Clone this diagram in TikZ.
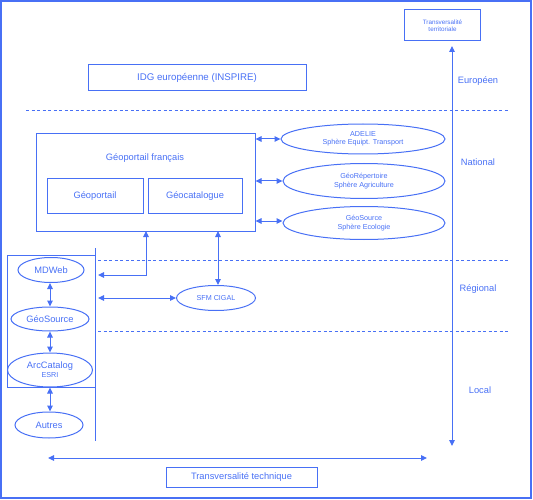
\documentclass[tikz,border=0pt]{standalone}
\usepackage{fontspec}
\setmainfont{Liberation Sans}
\usetikzlibrary{arrows.meta,shapes.geometric}
\definecolor{ink}{RGB}{72,112,245}
\begin{document}
\begin{tikzpicture}[x=1pt,y=-1pt,
  every node/.style={text=ink, font=\fontsize{9.3}{10}\selectfont, inner sep=0pt, align=center},
  box/.style={draw=ink, line width=1pt, rectangle},
  oval/.style={draw=ink, line width=1pt, ellipse},
  link/.style={draw=ink, line width=1pt, {Triangle[length=6pt,width=5.5pt]}-{Triangle[length=6pt,width=5.5pt]}},
  sep/.style={draw=ink, line width=0.8pt, dash pattern=on 3pt off 2.5pt},
  small/.style={font=\fontsize{7.2}{8.2}\selectfont},
  tiny/.style={font=\fontsize{6.3}{7.5}\selectfont},
  level/.style={font=\fontsize{9.3}{10}\selectfont}]
\useasboundingbox (0,0) rectangle (533,500);
\draw[ink, line width=1.4pt] (1,1) rectangle (531,498);

% top elements
\node[box, tiny, minimum width=76pt, minimum height=31pt] (tt) at (442.5,25.5) {Transversalité\\territoriale};
\node[box, minimum width=218pt, minimum height=26pt, font=\fontsize{9.7}{10}\selectfont] (idg) at (197,78) {IDG européenne (INSPIRE)};

% separators
\draw[sep] (26,110) -- (508,110);
\draw[sep] (98,260) -- (508,260);
\draw[sep] (98,331) -- (508,331);

% level labels
\node[level] (eu) at (478,81) {Européen};
\node[level] (nat) at (478,162) {National};
\node[level] (reg) at (478,289) {Régional};
\node[level] (loc) at (480,390) {Local};

% vertical axis
\coordinate (vtop) at (452,46);
\coordinate (vbot) at (452,446);
\draw[link] (vtop) -- (vbot);

% Géoportail français
\node[box, minimum width=219pt, minimum height=97pt] (geofr) at (145.5,182.5) {};
\node (geofrlbl) at (145,158) {Géoportail français};
\node[box, minimum width=96pt, minimum height=35pt] (geop) at (95,196) {Géoportail};
\node[box, minimum width=94pt, minimum height=35pt] (geocat) at (195,196) {Géocatalogue};

% spheres
\node[oval, small, minimum width=164pt, minimum height=30pt] (adelie) at (363,139) {ADELIE\\Sphère Equipt. Transport};
\node[oval, small, minimum width=162pt, minimum height=35pt] (georep) at (364,181) {GéoRépertoire\\Sphère Agriculture};
\node[oval, small, minimum width=162pt, minimum height=33pt] (geosrc) at (364,223) {GéoSource\\Sphère Ecologie};
\draw[link] (geofr.east |- adelie.west) -- (adelie.west);
\draw[link] (geofr.east |- georep.west) -- (georep.west);
\draw[link] (geofr.east |- 0,221) -- (geosrc.west |- 0,221);

% left group
\node[box, minimum width=88pt, minimum height=132pt] (grp) at (51,321) {};
\draw[ink, line width=1pt] (95,248) -- (95,441);
\node[oval, minimum width=66pt, minimum height=25pt] (mdweb) at (51,270) {MDWeb};
\node[oval, minimum width=78pt, minimum height=24pt] (geosl) at (50,319) {GéoSource};
\node[oval, minimum width=85pt, minimum height=34pt] (arc) at (50,370) {ArcCatalog\\[-1pt]{\fontsize{7.2}{8}\selectfont ESRI}};
\node[oval, minimum width=68pt, minimum height=26pt] (autres) at (49,425) {Autres};
\draw[link] (mdweb.south -| 50,0) -- (geosl.north -| 50,0);
\draw[link] (geosl.south) -- (arc.north);
\draw[link] (arc.south) -- (autres.north -| arc.south);

% SFM CIGAL
\node[oval, small, minimum width=79pt, minimum height=25pt] (sfm) at (216,298) {SFM CIGAL};
\coordinate (g1) at (146,231);
\coordinate (g2) at (218,231);
\draw[link] (g1) |- (98,275);
\draw[link] (g2) -- (sfm.north -| g2);
\draw[link] (98,298) -- (sfm.west);

% bottom
\coordinate (hl) at (48,458);
\coordinate (hr) at (427,458);
\draw[link] (hl) -- (hr);
\node[box, minimum width=151pt, minimum height=20pt] (tech) at (241.5,477) {Transversalité technique};
\end{tikzpicture}
\end{document}
